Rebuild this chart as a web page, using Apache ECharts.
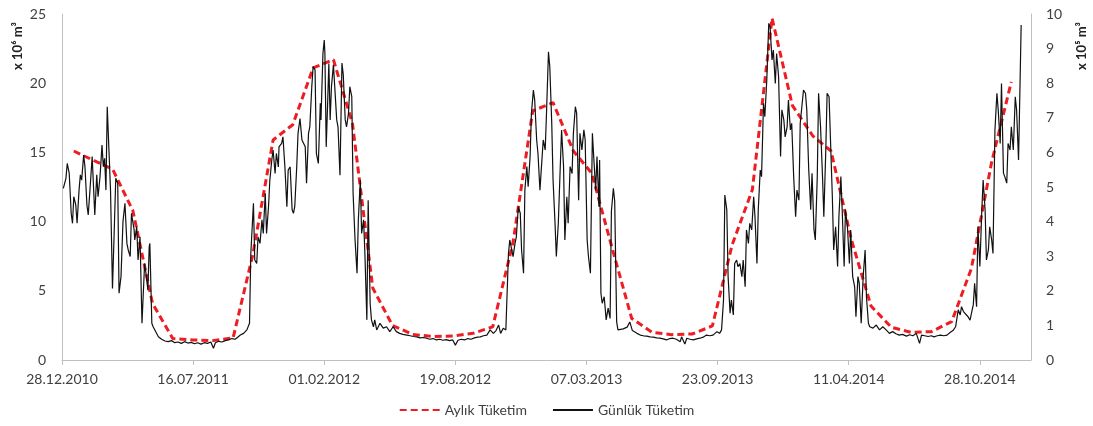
<!DOCTYPE html>
<html><head><meta charset="utf-8">
<script src="https://cdn.jsdelivr.net/npm/echarts@6/dist/echarts.min.js"></script>
<style>html,body{margin:0;padding:0;background:#fff}#c{width:1093px;height:426px}</style>
</head><body><div id="c"></div>
<script>
// Day 0 = 28.12.2010
const START = Date.UTC(2010, 11, 28);
const xTickDays = [0, 200, 400, 600, 800, 1000, 1200, 1400];
const xMaxDay = 1478;
const leftTicks = [0, 5, 10, 15, 20, 25];
const rightTicks = [0, 1, 2, 3, 4, 5, 6, 7, 8, 9, 10];

// Aylık Tüketim (x10^6 m3), plotted mid-month
const months = ['2011-01','2011-02','2011-03','2011-04','2011-05','2011-06','2011-07','2011-08','2011-09','2011-10','2011-11','2011-12',
  '2012-01','2012-02','2012-03','2012-04','2012-05','2012-06','2012-07','2012-08','2012-09','2012-10','2012-11','2012-12',
  '2013-01','2013-02','2013-03','2013-04','2013-05','2013-06','2013-07','2013-08','2013-09','2013-10','2013-11','2013-12',
  '2014-01','2014-02','2014-03','2014-04','2014-05','2014-06','2014-07','2014-08','2014-09','2014-10','2014-11','2014-12'];
const monthly = [15.1, 14.4, 13.8, 10.8, 4.1, 1.55, 1.45, 1.4, 1.6, 7.6, 15.9, 17.0,
  21.1, 21.7, 17.1, 5.2, 2.5, 1.85, 1.7, 1.73, 1.93, 2.4, 8.5, 18.0,
  18.6, 15.1, 13.5, 8.1, 3.0, 2.0, 1.83, 1.88, 2.46, 8.3, 12.3, 24.7,
  18.4, 16.2, 15.1, 8.7, 3.9, 2.36, 2.0, 2.05, 2.77, 6.6, 14.3, 20.1];

// Günlük Tüketim (x10^5 m3): [day since 28.12.2010, value]
const daily2011 = [[2,4.96],[6,5.25],[8,5.68],[11,5.40],[14,4.24],[16,3.95],[18,4.72],[21,4.48],[23,3.95],[26,4.91],[28,5.35],[30,5.20],[33,5.92],[35,5.59],[38,4.48],[40,4.19],[43,5.01],[46,5.88],[48,5.92],[50,4.19],[53,5.35],[55,4.72],[58,5.30],[61,6.21],[63,5.59],[65,5.83],[67,4.91],[69,7.32],[72,5.88],[74,4.91],[77,2.07],[80,3.95],[82,5.25],[85,5.11],[87,1.93],[90,2.41],[93,4.00],[96,4.53],[99,3.37],[101,3.18],[104,2.99],[106,4.24],[110,3.76],[111,3.47],[114,3.85],[116,2.89],[119,3.56],[122,1.06],[126,2.79],[128,2.51],[131,2.02],[133,3.27],[134,3.37],[137,1.06],[139,0.96],[142,1.01],[147,0.67],
  [152,0.60],[157,0.55],[162,0.53],[167,0.56],[172,0.50],[177,0.52],[182,0.48],[187,0.53],[192,0.49],[197,0.51],[202,0.47],[207,0.50],[212,0.46],[217,0.50],[222,0.48],[227,0.52],[231,0.34],[234,0.50],[239,0.54],[244,0.52],[249,0.56],[254,0.58],[259,0.62],[264,0.60],[268,0.66],[272,0.72],[277,0.77],[282,0.87],[286,1.06],
  [288,3.08],[292,4.53],[294,2.89],[297,2.79],[299,3.56],[302,3.37],[305,4.05],[307,3.66],[310,4.82],[312,3.66],[315,4.43],[317,5.20],[320,5.78],[322,6.07],[325,5.39],[327,5.97],[330,5.58],[331,6.16],[335,6.26],[337,6.45],[340,5.58],[343,4.43],[345,5.49],[348,5.58],[351,4.34],[353,4.24],[355,4.43],[358,5.58],[360,6.55],[363,6.98],[366,6.36],[368,6.36]];
const daily2012 = [[371,6.16],[373,5.11],[376,6.55],[378,6.74],[381,7.90],[383,8.48],[386,8.38],[388,5.97],[391,5.68],[394,7.42],[395,6.94],[398,8.86],[400,9.25],[401,8.86],[403,6.16],[405,7.32],[407,8.57],[409,6.94],[411,7.90],[414,8.53],[416,7.90],[419,6.94],[421,6.74],[424,5.34],[427,8.58],[429,8.25],[432,6.94],[434,6.74],[437,7.13],[439,7.90],[442,7.61],[444,4.82],[447,3.47],[450,2.51],[452,4.05],[455,5.20],[457,3.66],[460,4.05],[462,3.08],[465,1.16],[467,4.62],[470,1.64],[472,1.16],[475,0.96],[477,1.16],[480,0.87],[485,1.06],[490,0.92],[495,0.96],[500,0.82],[505,0.96],[510,0.82],[515,0.77],[520,0.74],[526,0.72],[531,0.70],[536,0.68],[541,0.67],[546,0.64],[551,0.65],[556,0.63],[561,0.60],[566,0.62],[571,0.58],[576,0.60],[581,0.57],[586,0.59],[591,0.56],[596,0.58],[600,0.43],[604,0.57],[609,0.60],[614,0.58],[619,0.62],[624,0.60],[629,0.64],[634,0.66],[638,0.67],[643,0.70],[648,0.72],[653,0.87],[658,0.77],[662,0.85],[666,1.01],[669,0.77],[673,0.92],[677,0.87],
  [681,3.08],[683,3.47],[686,3.18],[688,2.99],[691,3.37],[693,3.56],[696,4.43],[699,4.24],[701,3.18],[704,2.51],[706,4.91],[709,5.59],[711,5.01],[714,5.88],[716,7.13],[719,7.80],[721,7.51],[724,6.36],[726,5.97],[729,4.91],[732,5.78]];
const daily2013 = [[734,6.36],[737,6.07],[739,7.13],[742,8.91],[744,8.48],[747,6.84],[749,5.20],[752,3.95],[754,2.99],[757,3.95],[760,5.59],[762,6.65],[765,5.59],[767,3.47],[770,4.72],[772,3.95],[775,5.59],[778,5.39],[780,6.55],[783,7.32],[785,7.13],[788,4.62],[790,6.55],[793,6.07],[796,6.65],[798,6.36],[801,3.47],[803,2.99],[806,2.51],[809,6.55],[811,5.88],[814,4.91],[816,5.88],[819,4.43],[820,5.78],[822,1.93],[824,1.64],[827,1.83],[830,1.16],[833,1.50],[836,1.20],[838,4.30],[841,4.96],[843,4.60],[846,1.10],[848,0.87],[856,0.90],[862,0.95],[866,1.10],[870,0.85],[877,0.77],[882,0.72],[887,0.70],[892,0.69],[897,0.67],[902,0.66],[907,0.64],[912,0.63],[917,0.61],[922,0.58],[927,0.62],[932,0.63],[937,0.60],[943,0.53],[945,0.67],[950,0.46],[953,0.63],[958,0.60],[963,0.58],[968,0.61],[973,0.63],[978,0.66],[983,0.72],[988,0.70],[993,0.72],[999,0.82],[1003,0.77],[1006,0.87],[1009,1.73],
  [1011,4.77],[1014,4.34],[1016,2.41],[1019,1.35],[1021,1.73],[1024,1.30],[1026,2.79],[1029,2.89],[1031,2.70],[1034,2.79],[1037,2.41],[1039,2.89],[1042,2.12],[1044,3.76],[1047,3.37],[1049,3.95],[1052,3.76],[1055,4.72],[1057,4.14],[1060,2.79],[1062,4.34],[1065,5.49],[1067,5.30],[1070,7.42],[1072,7.03],[1075,8.09],[1078,9.73],[1080,9.63],[1083,8.67],[1085,8.96],[1088,7.99],[1090,8.86],[1093,8.19],[1096,5.88]];
const daily2014 = [[1098,7.23],[1101,6.94],[1103,6.45],[1106,6.74],[1108,7.51],[1111,6.65],[1113,6.84],[1116,5.30],[1119,4.14],[1121,4.91],[1124,4.62],[1126,6.84],[1129,7.42],[1131,7.80],[1134,7.71],[1136,7.23],[1139,5.49],[1142,4.34],[1144,5.40],[1147,3.76],[1149,3.47],[1152,5.30],[1154,7.71],[1157,6.74],[1160,5.30],[1162,4.14],[1165,6.07],[1167,7.71],[1170,7.61],[1172,6.45],[1175,4.72],[1177,3.18],[1180,3.85],[1183,2.70],[1185,4.14],[1188,5.30],[1190,4.34],[1193,2.70],[1195,4.34],[1198,3.85],[1201,2.79],[1203,3.76],[1206,2.41],[1209,2.12],[1211,1.25],[1214,2.41],[1216,2.22],[1219,1.06],[1222,2.41],[1225,3.18],[1227,1.83],[1230,1.06],[1232,0.96],[1237,0.92],[1242,1.01],[1247,0.87],[1252,0.96],[1257,0.87],[1262,0.77],[1267,0.82],[1272,0.76],[1277,0.72],[1282,0.74],[1288,0.69],[1293,0.73],[1298,0.70],[1303,0.77],[1308,0.48],[1311,0.72],[1316,0.70],[1321,0.68],[1326,0.70],[1330,0.67],[1335,0.70],[1340,0.72],[1345,0.70],[1350,0.72],[1355,0.80],[1359,0.85],[1363,0.96],[1367,1.45],[1370,1.30],[1372,1.54],[1375,1.40],[1378,1.35],[1382,1.25],[1385,1.15],[1387,1.11],[1390,1.60],[1392,2.22],[1395,1.54],[1397,3.85],[1400,2.70],[1403,4.34],[1405,5.20],[1408,4.34],[1410,2.89],[1413,3.18],[1415,3.85],[1418,3.47],[1420,3.08],[1423,6.65],[1426,7.71],[1428,7.23],[1431,6.26],[1433,7.99],[1436,5.40],[1438,5.30],[1441,5.11],[1443,6.26],[1446,6.07],[1448,6.74],[1451,6.07],[1454,7.61],[1456,7.23],[1459,5.78],[1460,6.74],[1463,9.68]];

const DAY = 86400000;
function fmtDay(d) {
  const dt = new Date(START + d * DAY);
  const p = n => (n < 10 ? '0' : '') + n;
  return p(dt.getUTCDate()) + '.' + p(dt.getUTCMonth() + 1) + '.' + dt.getUTCFullYear();
}
const monthlyData = months.map((m, i) => {
  const [y, mo] = m.split('-').map(Number);
  return [(Date.UTC(y, mo - 1, 15) - START) / DAY, monthly[i]];
});
const dailyData = [].concat(daily2011, daily2012, daily2013, daily2014);

const FONT = 'Lato, "Open Sans", sans-serif';
const TXT = '#404040';
const AXIS = '#bfbfbf';

const chart = echarts.init(document.getElementById('c'), null, {renderer: 'canvas'});
chart.setOption({
  animation: false,
  backgroundColor: '#fff',
  grid: {left: 62, right: 62, top: 14, bottom: 66, containLabel: false},
  legend: {
    bottom: 4, left: 'center', itemWidth: 40, itemHeight: 14, itemGap: 25,
    itemStyle: {opacity: 0},
    textStyle: {fontFamily: FONT, fontSize: 14, color: TXT},
    data: ['Aylık Tüketim', 'Günlük Tüketim']
  },
  xAxis: {
    type: 'value', min: 0, max: xMaxDay, interval: 200,
    axisLine: {show: true, lineStyle: {color: AXIS, width: 1}},
    axisTick: {show: true, length: 5, lineStyle: {color: AXIS}, customValues: xTickDays},
    axisLabel: {fontFamily: FONT, fontSize: 14, color: TXT, margin: 12, customValues: xTickDays, formatter: v => fmtDay(v)},
    splitLine: {show: false}
  },
  yAxis: [
    {type: 'value', min: leftTicks[0], max: leftTicks[leftTicks.length - 1], interval: 5, position: 'left',
      axisLine: {show: true, lineStyle: {color: AXIS}}, axisTick: {show: false},
      axisLabel: {fontFamily: FONT, fontSize: 14, color: TXT, margin: 16},
      splitLine: {show: false}},
    {type: 'value', min: rightTicks[0], max: rightTicks[rightTicks.length - 1], interval: 1, position: 'right',
      axisLine: {show: true, lineStyle: {color: AXIS}}, axisTick: {show: false},
      axisLabel: {fontFamily: FONT, fontSize: 14, color: TXT, margin: 15},
      splitLine: {show: false}}
  ],
  graphic: [
    {type: 'text', x: 18, y: 46, rotation: Math.PI / 2,
      style: {text: 'x 10⁶ m³', font: 'bold 13px ' + FONT, fill: '#222', align: 'center', verticalAlign: 'middle'}},
    {type: 'text', x: 1082, y: 46, rotation: Math.PI / 2,
      style: {text: 'x 10⁵ m³', font: 'bold 13px ' + FONT, fill: '#222', align: 'center', verticalAlign: 'middle'}}
  ],
  series: [
    {name: 'Aylık Tüketim', type: 'line', yAxisIndex: 0, data: monthlyData, symbol: 'none', z: 2,
      lineStyle: {color: '#ee1d23', width: 3, type: [7, 4]}, itemStyle: {color: '#ee1d23'}},
    {name: 'Günlük Tüketim', type: 'line', yAxisIndex: 1, data: dailyData, symbol: 'none', z: 3,
      lineStyle: {color: '#111', width: 1.2}, itemStyle: {color: '#111'}}
  ]
});
</script></body></html>
